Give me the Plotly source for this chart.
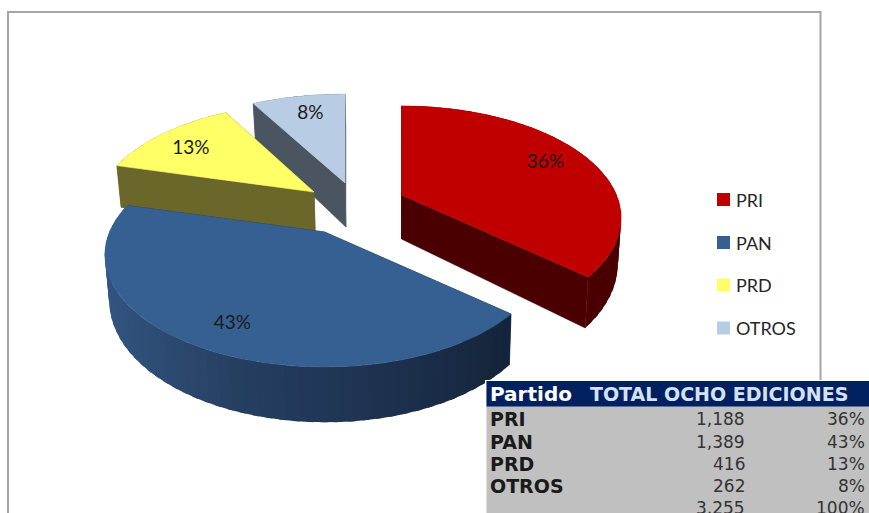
import math
import plotly.graph_objects as go

# ---- data ----
partidos = ["PRI", "PAN", "PRD", "OTROS"]
totales = [1188, 1389, 416, 262]
porcentajes = ["36%", "43%", "13%", "8%"]
total_general = "3,255"
total_porcentaje = "100%"
encabezados = ["Partido", "TOTAL OCHO EDICIONES"]

# ---- styles ----
top_colors = ["#c00000", "#376092", "#ffff66", "#b8cce4"]
cut_colors = ["#4a0000", "#1b2e49", "#6b6629", "#4b5561"]
apex = [(401.5, 195), (324.5, 232), (314, 192), (345, 183)]
x_scale = [1.0, 1.0, 1.0, 1.04]
label_nudge = [(-3, 1), (3, 4), (0, 5), (4, 3)]
W, H = 869, 513
RX, RY, P, DROP = 215.0, 107.3, 0.205, 44.0
X0, K = 400.0, 0.985
LATO = "Lato, sans-serif"
DJ = "DejaVu Sans, sans-serif"


def top_pt(i, deg, r=1.0):
    a = apex[i]
    t = math.radians(deg)
    u, v = r * math.sin(t), r * math.cos(t)
    f = 1 / (1 + P * v)
    return a[0] + RX * x_scale[i] * u * f, a[1] - RY * v * f


def drop_pt(i, deg, r=1.0):
    x, y = top_pt(i, deg, r)
    v = r * math.cos(math.radians(deg))
    return X0 + (x - X0) * K, y + DROP / (1 + P * v)


def poly(pts, color, lw=0.6):
    fig.add_trace(go.Scatter(
        x=[p[0] for p in pts] + [pts[0][0]], y=[p[1] for p in pts] + [pts[0][1]],
        mode="lines", fill="toself", fillcolor=color,
        line=dict(color=color, width=lw), hoverinfo="skip", showlegend=False))


def lerp_hex(stops, t):
    n = len(stops) - 1
    i = min(int(t * n), n - 1)
    s = t * n - i
    a, b = stops[i], stops[i + 1]
    return "rgb(%d,%d,%d)" % tuple(round(a[j] + (b[j] - a[j]) * s) for j in range(3))


fig = go.Figure()

# frame of the chart
fig.add_shape(type="rect", x0=8, y0=12, x1=820.5, y1=540, line=dict(color="#a6a6a6", width=2),
              fillcolor="white", layer="below")

# slice angles from the values
tot = sum(totales)
angles = []
acc = 0.0
for val in totales:
    angles.append((acc * 360 / tot, (acc + val) * 360 / tot))
    acc += val

rim_stops = {
    0: [(74, 0, 0), (74, 0, 0)],
    1: [(50, 84, 128), (37, 62, 96), (30, 50, 80), (20, 35, 57)],
    2: [(107, 102, 41), (107, 102, 41)],
    3: [(75, 85, 97), (75, 85, 97)],
}

for i in [3, 2, 1, 0]:
    s, e = angles[i]
    # cut faces
    for deg in (e, s):
        poly([top_pt(i, 0, 0), top_pt(i, deg), drop_pt(i, deg), drop_pt(i, deg, 0)], cut_colors[i])
    # rim in bands, each overlapping the next so that no seam shows
    n = max(2, int((e - s) / 3))
    for k in range(n):
        d0 = s + (e - s) * k / n
        d1 = s + (e - s) * (k + 1) / n
        xm = top_pt(i, (d0 + d1) / 2)[0]
        t = max(0.0, min(1.0, (xm - 105) / 410))
        d2 = min(e, d1 + 1.5)
        poly([top_pt(i, d0), top_pt(i, d2), drop_pt(i, d2), drop_pt(i, d0)],
             lerp_hex(rim_stops[i], t), 0)
    # top face
    steps = max(8, int(e - s))
    pts = [top_pt(i, 0, 0)] + [top_pt(i, s + (e - s) * k / steps) for k in range(steps + 1)]
    poly(pts, top_colors[i])

# percentage labels on the slices
lab = [top_pt(i, sum(angles[i]) / 2, 0.8) for i in range(4)]
fig.add_trace(go.Scatter(
    x=[p[0] + n[0] for p, n in zip(lab, label_nudge)],
    y=[p[1] + n[1] for p, n in zip(lab, label_nudge)],
    mode="text", text=porcentajes,
    textposition="middle center", textfont=dict(family=LATO, size=19, color="#1a1a1a"),
    hoverinfo="skip", showlegend=False))

# legend keys
leg_x = [723.5] * 4
leg_y = [199.5, 242.5, 285, 328]
fig.add_trace(go.Scatter(
    x=leg_x, y=leg_y, mode="markers",
    marker=dict(symbol="square", size=13, color=top_colors, line=dict(width=0)),
    hoverinfo="skip", showlegend=False))
for name, y in zip(partidos, leg_y):
    fig.add_annotation(x=733.5, y=y, text=name, xanchor="left", yanchor="middle", showarrow=False,
                       font=dict(family=LATO, size=18, color="#262626"))

# table
fig.add_shape(type="rect", x0=485, y0=380, x1=W + 5, y1=H + 5, fillcolor="white",
              line=dict(width=0), layer="above")
fig.add_shape(type="rect", x0=486.5, y0=381, x1=W + 5, y1=H + 5, fillcolor="#c0c0c0",
              line=dict(width=0), layer="above")
fig.add_shape(type="rect", x0=486.5, y0=381, x1=W + 5, y1=406.5, fillcolor="#002060",
              line=dict(width=0), layer="above")


def note(x, y, text, anchor, size, color, bold=False):
    fig.add_annotation(x=x, y=y, text="<b>%s</b>" % text if bold else text, xanchor=anchor,
                       yanchor="middle", showarrow=False,
                       font=dict(family=DJ, size=size, color=color))


note(488, 394, encabezados[0], "left", 20, "#ffffff", True)
note(588, 394, encabezados[1], "left", 19, "#d5e2f2", True)
row_y = [419, 441.5, 464, 486]
for name, val, pct, y in zip(partidos, totales, porcentajes, row_y):
    note(488, y, name, "left", 19, "#1a1a1a", True)
    note(747, y, f"{val:,}", "right", 17, "#333333")
    note(867, y, pct, "right", 17, "#333333")
note(747, 508, total_general, "right", 17, "#333333")
note(867, 508, total_porcentaje, "right", 17, "#333333")

fig.update_layout(
    width=W, height=H, margin=dict(l=0, r=0, t=0, b=0), showlegend=False,
    paper_bgcolor="white", plot_bgcolor="white",
    xaxis=dict(range=[0, W], visible=False, fixedrange=True),
    yaxis=dict(range=[H, 0], visible=False, fixedrange=True),
)
fig.write_html("out.html", config={"displayModeBar": False},
               post_script="document.body.style.margin='0';document.body.style.overflow='hidden';")
